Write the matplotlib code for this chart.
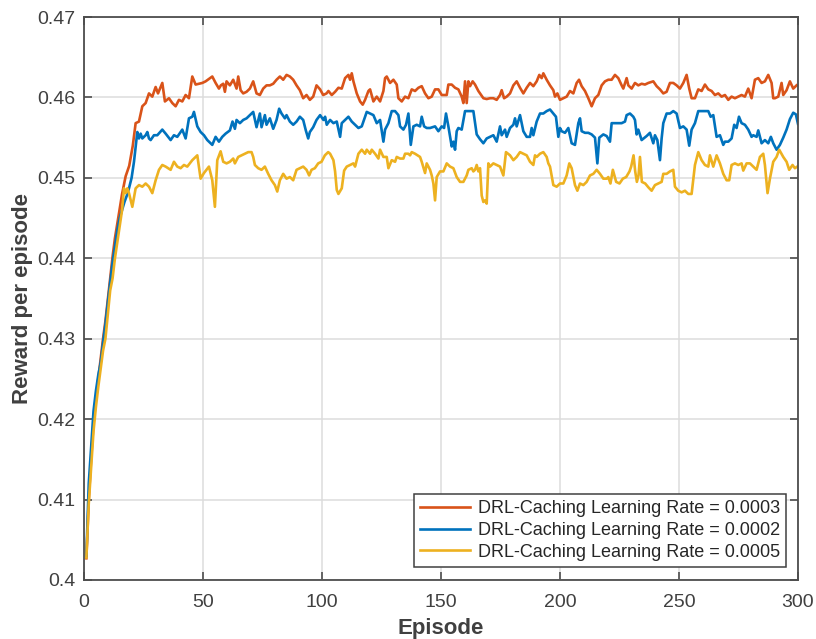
import matplotlib
matplotlib.use("Agg")
import matplotlib.pyplot as plt

# ---------------- data ----------------
ep_03 = [1, 2, 3, 4, 5, 6, 7, 8, 9, 10, 11, 12, 13, 14, 14.7, 16, 17.5, 19, 20.5, 21.7,
         23.1, 24.5, 25.9, 27.3, 28.7, 30.1, 31.1, 32.9, 34, 35.7, 37.1, 38.5, 39.9, 41.3,
         42.7, 44.1, 45.5, 46.9, 49.7, 51.1, 53.9, 55.3, 56.7, 57.5, 58.5, 59.2, 59.9, 61.3,
         62.7, 64.1, 64.8, 65.8, 66.9, 68.3, 69.7, 71.1, 72.5, 73.9, 75.3, 76.7, 78.1, 79.5,
         80.9, 82.3, 83.7, 85.1, 86.5, 87.9, 89.3, 90.7, 92.1, 93.5, 94.9, 96.3, 97.7, 99.2,
         100.5, 101.9, 102.7, 104.1, 105.5, 106.9, 108.3, 109.7, 111.1, 111.8, 112.5, 113.2,
         114.6, 116, 117.1, 118.1, 119.5, 120.2, 121.6, 123, 124.4, 125.8, 126.5, 127.2, 128.6,
         130, 131.4, 132.1, 133.5, 134.9, 136.3, 137.7, 139.1, 140.5, 141.9, 143.3, 144.7,
         146.1, 147.5, 148.9, 150.3, 152.4, 153.1, 154.5, 155.9, 157.3, 158.7, 159.4, 160.1,
         160.8, 161.5, 162.2, 163.3, 164.3, 165.7, 167.8, 169.2, 170.6, 172, 173.4, 174.8,
         175.5, 176.5, 177.6, 179, 180.4, 181.8, 183.2, 184.6, 186, 187.4, 188.8, 190.2, 191.3,
         192.3, 193, 194.4, 195.8, 197.2, 197.9, 198.9, 200, 201.4, 202.8, 204.2, 205.6, 207,
         208, 209.1, 210.5, 211.9, 213.3, 214.7, 216.1, 217.5, 218.9, 220.3, 221.7, 223.1,
         224.5, 225.9, 226.6, 228, 228.7, 230.1, 231.5, 232.9, 234.3, 235.7, 237.1, 239.2,
         240.6, 242, 243.4, 244.8, 246.2, 247.6, 249, 250.4, 251.8, 253.2, 254.3, 255.3, 256.7,
         258.1, 259.5, 260.9, 262.3, 263.7, 265.1, 266.5, 267.9, 269.3, 270.7, 272.1, 273.5,
         274.9, 276.3, 277.7, 279.1, 280.5, 281.9, 283.3, 284.7, 286.1, 287.5, 288.9, 289.6,
         290.3, 291.7, 293.1, 293.8, 295.2, 296.6, 298, 299.4]
rw_03 = [.4027, .4100, .4150, .4195, .4225, .4250, .4275, .4300, .4322, .4348, .4375, .4402,
         .4425, .4443, .4456, .4480, .4502, .4515, .4540, .4568, .4570, .4589, .4593, .4605,
         .4601, .4613, .4605, .4618, .4595, .4599, .4593, .4589, .4597, .4595, .4603, .4599,
         .4626, .4616, .4618, .4620, .4626, .4618, .4611, .4615, .4617, .4607, .4620, .4615,
         .4622, .4611, .4626, .4609, .4605, .4607, .4611, .4620, .4605, .4603, .4611, .4615,
         .4615, .4617, .4622, .4626, .4622, .4628, .4626, .4622, .4615, .4609, .4599, .4603,
         .4597, .4601, .4615, .4610, .4603, .4605, .4608, .4603, .4607, .4612, .4611, .4624,
         .4628, .4622, .4630, .4620, .4605, .4595, .4591, .4597, .4608, .4610, .4595, .4601,
         .4595, .4608, .4624, .4626, .4618, .4622, .4616, .4599, .4595, .4601, .4599, .4610,
         .4608, .4612, .4614, .4605, .4599, .4601, .4610, .4610, .4603, .4603, .4616, .4616,
         .4612, .4610, .4601, .4593, .4620, .4593, .4620, .4614, .4620, .4616, .4608, .4599,
         .4598, .4599, .4599, .4597, .4603, .4609, .4599, .4601, .4605, .4615, .4620, .4612,
         .4605, .4612, .4618, .4614, .4620, .4628, .4624, .4630, .4622, .4615, .4609, .4601,
         .4605, .4597, .4599, .4601, .4608, .4605, .4618, .4622, .4614, .4608, .4599, .4589,
         .4599, .4603, .4615, .4620, .4622, .4622, .4628, .4624, .4615, .4611, .4624, .4615,
         .4611, .4618, .4615, .4617, .4616, .4618, .4620, .4614, .4610, .4605, .4607, .4618,
         .4618, .4615, .4611, .4618, .4628, .4611, .4599, .4599, .4610, .4608, .4616, .4610,
         .4608, .4603, .4605, .4601, .4603, .4597, .4601, .4599, .4601, .4603, .4601, .4611,
         .4599, .4622, .4624, .4618, .4620, .4628, .4618, .4599, .4599, .4601, .4618, .4603,
         .4609, .4620, .4611, .4615]

ep_02 = [1, 2, 3, 4, 5, 6, 7, 8, 9, 10, 11, 12, 13, 14, 15, 16, 17, 18, 18.9, 20, 21, 22.4,
         23.1, 23.8, 24.5, 25.9, 26.6, 27.3, 28, 29.4, 30.8, 32.9, 34.3, 36.4, 37.8, 39.2,
         40.6, 41.3, 42.7, 44.1, 45.5, 46.2, 47.6, 49, 50.4, 51.8, 53.9, 55.3, 56.7, 58.1,
         59.5, 61.3, 62.4, 63.4, 64.1, 65.5, 66.9, 68.3, 69.7, 71.1, 72.5, 73.9, 74.6, 76,
         76.7, 78.1, 79.5, 80.9, 82, 83, 84.4, 85.1, 86.5, 87.9, 89.3, 90.7, 92.1, 93.2, 94.2,
         94.9, 96.3, 97.7, 99.2, 100.6, 101.3, 102, 103.4, 104.8, 106.2, 107.6, 108.3, 109.7,
         111.1, 112.5, 113.9, 115.3, 116.7, 118.8, 120.2, 121.6, 123, 124.4, 125.8, 126.5,
         127.9, 129.3, 130.7, 132.1, 132.8, 134.2, 135.3, 136.3, 137.3, 138.4, 139.8, 141.2,
         141.9, 142.9, 144, 145.4, 147.5, 148.9, 150.3, 151.3, 152.1, 153.1, 154.5, 155.2,
         155.9, 156.6, 157.3, 158.7, 160.1, 161.5, 163.6, 165, 166.4, 167.8, 169.2, 170.6, 172,
         173.4, 174.8, 175.5, 176.9, 177.6, 179, 180.4, 181.1, 181.8, 183.2, 184.6, 186, 187.4,
         188.1, 188.8, 190.2, 191.6, 193, 194.4, 195.8, 197.2, 198.3, 199.3, 200, 200.7, 202.1,
         203.5, 204.9, 206.3, 207.7, 208.4, 209.1, 210.5, 211.9, 213.3, 214.7, 215.7, 216.5,
         218.2, 219.6, 221, 221.7, 223.1, 224.5, 225.9, 227.3, 228, 229.4, 230.8, 231.5, 232.2,
         232.9, 234.3, 236.4, 237.8, 239.2, 239.9, 240.9, 242, 242.7, 243.4, 244.8, 246.2,
         247.6, 249, 250.4, 251.8, 253.2, 254.3, 255.3, 256.7, 258.1, 259.5, 260.9, 262.3,
         263.3, 264.4, 265.8, 267.2, 268.6, 269.3, 270.7, 272.1, 273.2, 274.2, 275.2, 276.3,
         277.7, 279.1, 280.5, 281.2, 282.6, 283.3, 284.7, 286.1, 287.5, 288.6, 289.6, 291,
         292.4, 293.8, 295.2, 296.6, 298, 299.1, 300]
rw_02 = [.4030, .4120, .4165, .4210, .4235, .4255, .4270, .4295, .4318, .4345, .4370, .4395,
         .4415, .4435, .4450, .4460, .4470, .4478, .4487, .4500, .4520, .4557, .4549, .4555,
         .4549, .4553, .4557, .4549, .4547, .4553, .4553, .4560, .4555, .4547, .4553, .4551,
         .4557, .4560, .4549, .4574, .4576, .4582, .4564, .4557, .4553, .4547, .4541, .4551,
         .4545, .4551, .4555, .4559, .4570, .4561, .4572, .4568, .4572, .4574, .4578, .4582,
         .4563, .4580, .4563, .4578, .4566, .4574, .4561, .4572, .4586, .4580, .4574, .4578,
         .4570, .4566, .4570, .4576, .4572, .4559, .4549, .4557, .4563, .4572, .4578, .4572,
         .4576, .4566, .4572, .4568, .4570, .4551, .4568, .4572, .4576, .4570, .4566, .4562,
         .4564, .4582, .4580, .4578, .4568, .4572, .4545, .4560, .4568, .4583, .4583, .4578,
         .4564, .4560, .4566, .4580, .4541, .4564, .4566, .4564, .4576, .4564, .4562, .4562,
         .4564, .4558, .4564, .4562, .4580, .4564, .4539, .4545, .4535, .4558, .4562, .4560,
         .4583, .4583, .4583, .4554, .4548, .4543, .4549, .4551, .4553, .4545, .4564, .4553,
         .4560, .4551, .4562, .4566, .4574, .4564, .4578, .4558, .4551, .4551, .4562, .4553,
         .4570, .4580, .4580, .4583, .4585, .4580, .4576, .4551, .4562, .4558, .4556, .4562,
         .4543, .4541, .4568, .4574, .4558, .4556, .4556, .4554, .4550, .4518, .4550, .4554,
         .4552, .4545, .4568, .4568, .4568, .4568, .4570, .4578, .4580, .4576, .4572, .4554,
         .4560, .4547, .4552, .4556, .4543, .4553, .4547, .4522, .4549, .4568, .4580, .4580,
         .4583, .4580, .4562, .4564, .4560, .4540, .4560, .4568, .4583, .4583, .4583, .4583,
         .4576, .4578, .4551, .4553, .4541, .4545, .4545, .4549, .4566, .4562, .4576, .4568,
         .4566, .4560, .4551, .4553, .4551, .4559, .4543, .4547, .4543, .4551, .4543, .4535,
         .4541, .4550, .4560, .4573, .4581, .4579, .4567]

ep_05 = [1, 2, 3, 4, 5, 6, 7, 8, 9, 10, 11, 12, 13, 14, 15, 16, 16.8, 17.5, 18.2, 18.9, 20.3,
         21.7, 23.1, 24.5, 25.9, 27.3, 28.7, 30.1, 31.5, 32.9, 34.3, 36.4, 37.8, 39.2, 40.6,
         42, 43.4, 45.5, 47.6, 49, 50.4, 52.5, 53.9, 55, 56, 57.4, 58.5, 59.9, 61.3, 62.7,
         63.4, 64.8, 66.2, 67.6, 69, 70.4, 71.1, 71.8, 73.2, 74.6, 76, 77.4, 78.8, 80.2, 81.2,
         82.3, 83.7, 85.1, 86.5, 87.9, 89.3, 90.7, 92.1, 93.5, 94.6, 95.6, 97, 98.4, 99.8,
         101.2, 102.6, 103.4, 104.8, 105.5, 106.2, 106.9, 108.3, 109.3, 110.4, 111.8, 113.2,
         113.9, 115.3, 116.7, 118.1, 118.8, 120.2, 120.9, 122.3, 123.7, 124.4, 125.8, 127.2,
         127.9, 129.3, 130.7, 131.4, 132.8, 134.2, 134.9, 136.3, 137, 137.7, 139.1, 141.2,
         141.9, 143.3, 144, 145.4, 146.1, 146.8, 147.5, 148.2, 149.6, 151, 152.4, 153.8, 155.2,
         156.6, 158, 159.4, 160.8, 161.5, 162.9, 163.6, 164.3, 165, 165.7, 166.4, 167.1, 167.8,
         168.5, 169.2, 169.9, 170.6, 172, 173.4, 174.8, 176.2, 177.3, 179, 180.4, 181.8, 183.2,
         184.6, 186, 187.4, 188.8, 189.5, 190.2, 191.6, 193, 194.4, 195.1, 195.8, 197.2, 198.6,
         200, 201.4, 202.8, 203.9, 204.9, 206.3, 207.3, 208.4, 209.8, 211.2, 212.6, 214, 215.4,
         216.8, 218.2, 219.6, 220.3, 221.2, 222.2, 223.6, 225, 226.4, 227.8, 229.2, 229.9,
         230.9, 231.6, 232.3, 233, 233.6, 234.4, 235.8, 237.2, 238.5, 239.9, 241.3, 242.7,
         243.4, 244.8, 246.2, 247.6, 248.3, 249.7, 251.1, 252.5, 253.9, 255.3, 256.7, 258.1,
         259.5, 260.9, 262.3, 263, 264.4, 265.8, 267.2, 268.6, 270, 271.1, 272.1, 273.5, 274.9,
         276.3, 277, 278.4, 279.8, 281.2, 282.6, 284, 285.4, 286.1, 287.2, 288.2, 289.6, 291,
         292.1, 293.8, 295.2, 296.3, 297.7, 298.7, 299.7]
rw_05 = [.4028, .4095, .4140, .4185, .4215, .4240, .4262, .4285, .4300, .4330, .4360, .4375,
         .4400, .4420, .4440, .4460, .4487, .4481, .4487, .4481, .4464, .4487, .4491, .4489,
         .4493, .4489, .4481, .4497, .4510, .4516, .4514, .4510, .4520, .4514, .4512, .4516,
         .4514, .4522, .4528, .4499, .4506, .4514, .4497, .4464, .4522, .4533, .4520, .4518,
         .4520, .4524, .4518, .4526, .4528, .4530, .4532, .4532, .4526, .4516, .4512, .4510,
         .4514, .4505, .4497, .4491, .4483, .4497, .4505, .4499, .4501, .4497, .4510, .4512,
         .4514, .4510, .4503, .4510, .4512, .4518, .4520, .4528, .4532, .4530, .4522, .4508,
         .4485, .4480, .4487, .4509, .4514, .4516, .4518, .4514, .4530, .4535, .4530, .4535,
         .4530, .4535, .4530, .4524, .4535, .4526, .4526, .4512, .4522, .4520, .4526, .4524,
         .4524, .4530, .4530, .4528, .4532, .4530, .4526, .4520, .4506, .4518, .4510, .4503,
         .4493, .4472, .4501, .4508, .4508, .4518, .4514, .4512, .4501, .4495, .4495, .4503,
         .4510, .4512, .4508, .4510, .4516, .4508, .4512, .4478, .4470, .4472, .4468, .4518,
         .4514, .4518, .4516, .4514, .4503, .4532, .4528, .4522, .4526, .4532, .4530, .4528,
         .4520, .4516, .4528, .4526, .4530, .4532, .4526, .4518, .4514, .4491, .4489, .4493,
         .4493, .4503, .4518, .4512, .4491, .4484, .4493, .4491, .4495, .4503, .4505, .4510,
         .4505, .4499, .4499, .4501, .4493, .4510, .4495, .4493, .4499, .4501, .4508, .4514,
         .4528, .4508, .4495, .4503, .4526, .4495, .4493, .4488, .4484, .4491, .4493, .4495,
         .4505, .4505, .4508, .4510, .4489, .4484, .4482, .4484, .4480, .4480, .4516, .4532,
         .4522, .4516, .4514, .4528, .4514, .4528, .4518, .4505, .4497, .4497, .4516, .4518,
         .4516, .4518, .4509, .4518, .4518, .4514, .4510, .4526, .4530, .4516, .4481, .4499,
         .4520, .4526, .4535, .4526, .4520, .4510, .4516, .4512, .4514]

labels = ["DRL-Caching Learning Rate = 0.0003",
          "DRL-Caching Learning Rate = 0.0002",
          "DRL-Caching Learning Rate = 0.0005"]
colors = ["#D95319", "#0072BD", "#EDB120"]
x_ticks = [0, 50, 100, 150, 200, 250, 300]
y_ticks = [0.40, 0.41, 0.42, 0.43, 0.44, 0.45, 0.46, 0.47]
y_tick_labels = ["0.4", "0.41", "0.42", "0.43", "0.44", "0.45", "0.46", "0.47"]

# ---------------- figure ----------------
plt.rcParams['font.family'] = ['Liberation Sans', 'DejaVu Sans']
fig = plt.figure(figsize=(8.16, 6.39), dpi=100)
ax = fig.add_axes([84/816, 1-580/639, (798-84)/816, (580-17)/639])

series = [(ep_03, rw_03), (ep_02, rw_02), (ep_05, rw_05)]
for (xs, ys), c, lab in zip(series, colors, labels):
    ax.plot(xs, ys, color=c, lw=1.9, label=lab, solid_joinstyle='round')

ax.set_xlim(0, 300)
ax.set_ylim(0.40, 0.47)
ax.set_xticks(x_ticks)
ax.set_yticks(y_ticks)
ax.set_yticklabels(y_tick_labels)
ax.grid(True, color='#dcdcdc', lw=1.1)
ax.set_axisbelow(True)

axis_col = '#4d4d4d'
for s in ax.spines.values():
    s.set_color(axis_col)
    s.set_linewidth(1.3)
ax.tick_params(axis='both', direction='in', length=6, width=1.2, color=axis_col,
               labelsize=14, labelcolor='#404040', top=True, right=True)
ax.tick_params(axis='y', pad=6)
ax.tick_params(axis='x', pad=10)

ax.set_xlabel("Episode", fontsize=16, fontweight='bold', color='#404040', labelpad=5)
ax.set_ylabel("Reward per episode", fontsize=16, fontweight='bold', color='#404040', labelpad=3)

leg = ax.legend(loc='lower right', bbox_to_anchor=(0.9835, 0.023), borderaxespad=0,
                fontsize=13, frameon=True, fancybox=False, framealpha=1,
                edgecolor='#404040', handlelength=2.75, handletextpad=0.45,
                labelspacing=0.26, borderpad=0.35)
leg.get_frame().set_linewidth(1.1)
for t in leg.get_texts():
    t.set_color('#262626')

fig.savefig("out.png", dpi=100)
